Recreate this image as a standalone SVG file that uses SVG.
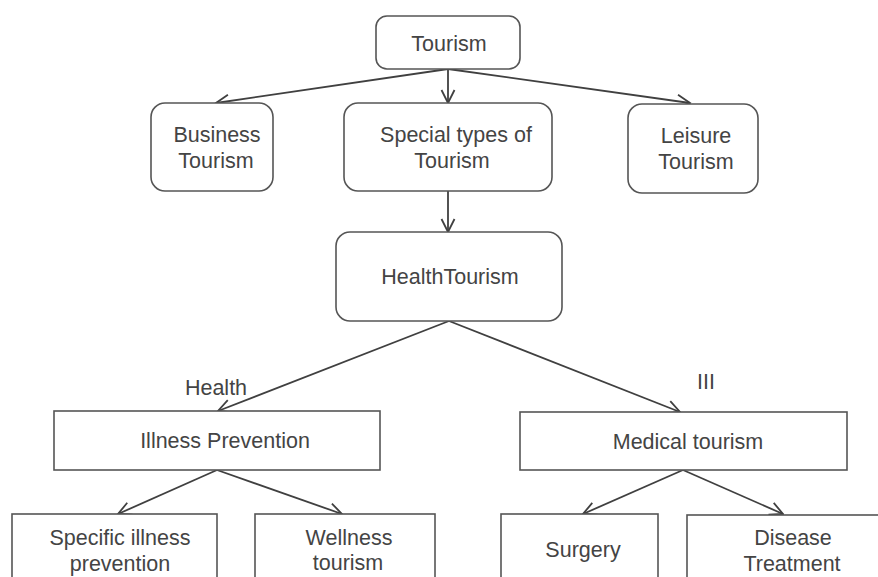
<svg xmlns="http://www.w3.org/2000/svg" width="878" height="577" viewBox="0 0 878 577">
<style>
.box{fill:#fff;stroke:#555;stroke-width:1.6}
.t{font-family:"Liberation Sans",Arial,sans-serif;font-size:21.5px;fill:#444;text-anchor:middle}
.c{stroke:#404040;stroke-width:1.8;fill:none;marker-end:url(#ah)}
</style>
<defs>
<marker id="ah" viewBox="0 0 16 16" refX="14.5" refY="8" markerWidth="16" markerHeight="16" markerUnits="userSpaceOnUse" orient="auto">
<path d="M1.5,1.5 L14.5,8 L1.5,14.5" fill="none" stroke="#404040" stroke-width="1.8"/>
</marker>
</defs>
<rect width="878" height="577" fill="#fff"/>
<g id="connectors">
<line class="c" x1="448" y1="69" x2="216" y2="103"/>
<line class="c" x1="448" y1="69" x2="448" y2="103"/>
<line class="c" x1="448" y1="69" x2="690" y2="103"/>
<line class="c" x1="448" y1="191" x2="448" y2="232"/>
<line class="c" x1="449" y1="321" x2="218" y2="411"/>
<line class="c" x1="449" y1="321" x2="680" y2="412"/>
<line class="c" x1="217" y1="470" x2="118" y2="514"/>
<line class="c" x1="217" y1="470" x2="342" y2="514"/>
<line class="c" x1="683" y1="470" x2="583" y2="514"/>
<line class="c" x1="683" y1="470" x2="783" y2="514"/>
<text class="t" x="216" y="395">Health</text>
<text class="t" x="706" y="389">III</text>
</g>
<g id="tourism">
<rect class="box" x="376" y="16" width="144" height="53" rx="11"/>
<text class="t" x="449" y="51">Tourism</text>
</g>
<g id="business">
<rect class="box" x="151" y="103" width="122" height="88" rx="14"/>
<text class="t" x="217" y="142">Business</text>
<text class="t" x="216" y="168">Tourism</text>
</g>
<g id="special">
<rect class="box" x="344" y="103" width="208" height="88" rx="14"/>
<text class="t" x="456" y="142">Special types of</text>
<text class="t" x="452" y="168">Tourism</text>
</g>
<g id="leisure">
<rect class="box" x="628" y="104" width="130" height="89" rx="14"/>
<text class="t" x="696" y="143">Leisure</text>
<text class="t" x="696" y="169">Tourism</text>
</g>
<g id="health">
<rect class="box" x="336" y="232" width="226" height="89" rx="14"/>
<text class="t" x="450" y="284">HealthTourism</text>
</g>
<g id="illness">
<rect class="box" x="54" y="411" width="326" height="59"/>
<text class="t" x="225" y="448">Illness Prevention</text>
</g>
<g id="medical">
<rect class="box" x="520" y="412" width="327" height="58"/>
<text class="t" x="688" y="449">Medical tourism</text>
</g>
<g id="specific">
<rect class="box" x="12" y="514" width="205" height="80"/>
<text class="t" x="120" y="545">Specific illness</text>
<text class="t" x="120" y="571">prevention</text>
</g>
<g id="wellness">
<rect class="box" x="255" y="514" width="180" height="80"/>
<text class="t" x="349" y="545">Wellness</text>
<text class="t" x="348" y="570">tourism</text>
</g>
<g id="surgery">
<rect class="box" x="501" y="514" width="157" height="80"/>
<text class="t" x="583" y="557">Surgery</text>
</g>
<g id="disease">
<rect class="box" x="687" y="515" width="210" height="80"/>
<text class="t" x="793" y="545">Disease</text>
<text class="t" x="792" y="571">Treatment</text>
</g>
</svg>
